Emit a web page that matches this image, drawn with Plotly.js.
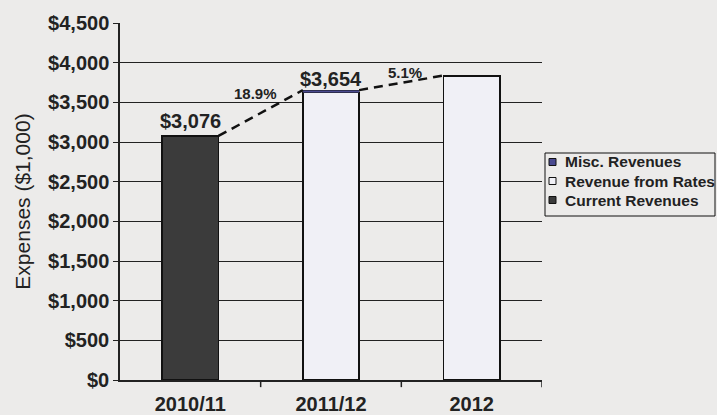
<!DOCTYPE html>
<html><head><meta charset="utf-8">
<script src="https://cdn.plot.ly/plotly-3.0.1.min.js"></script>
<style>html,body{margin:0;padding:0;background:#ecebea;}</style>
</head><body>
<div id="chart" style="width:717px;height:415px;"></div>
<script>
const categories = ['2010/11', '2011/12', '2012'];
const currentRevenues = [3076, 0, 0];
const revenueFromRates = [0, 3624, 3830];
const miscRevenues = [0, 30, 8];
const totals = [3076, 3654, 3838];
const totalLabels = ['$3,076', '$3,654', '$3,838'];
const changeLabels = ['18.9%', '5.1%'];
const seriesNames = ['Current Revenues', 'Revenue from Rates', 'Misc. Revenues'];
const yTickVals = [0, 500, 1000, 1500, 2000, 2500, 3000, 3500, 4000, 4500];
const yTickText = ['$0', '$500', '$1,000', '$1,500', '$2,000', '$2,500', '$3,000', '$3,500', '$4,000', '$4,500'];

const FONT = 'Liberation Sans, Arial, sans-serif';
const TXT = '#222';
const colors = ['#3b3b3b', '#f0f0f6', '#4a4a90'];
const halfW = 0.2;

// plot area in pixels (for placing the hand-drawn legend)
const W = 717, H = 415, ML = 120, MR = 175, MT = 23, MB = 35;
const PW = W - ML - MR, PH = H - MT - MB;
const px = x => (x - ML) / PW;
const py = y => (H - MB - y) / PH;

const seriesValues = [currentRevenues, revenueFromRates, miscRevenues];
const traces = seriesValues.map((vals, k) => ({
  type: 'bar', name: seriesNames[k], x: categories, y: vals,
  marker: {color: colors[k], line: {color: '#111', width: k === 2 ? 0.5 : 1.5}},
  showlegend: false
}));

// dashed connector lines from top-right of one bar to top-left of next
const lx = [], ly = [];
for (let i = 0; i < totals.length - 1; i++) {
  lx.push(i + halfW, i + 1 - halfW, null);
  ly.push(totals[i], totals[i + 1], null);
}
traces.push({type: 'scatter', mode: 'lines', x: lx, y: ly, xaxis: 'x2', yaxis: 'y',
  line: {color: '#111', width: 2.5, dash: '9px,6px'}, showlegend: false, hoverinfo: 'skip'});

const valueShift = [15, 11, 20];
const annotations = [];
totals.forEach((t, i) => {
  annotations.push({x: categories[i], y: t, xref: 'x', yref: 'y', text: totalLabels[i],
    showarrow: false, yanchor: 'middle', yshift: valueShift[i],
    font: {family: FONT, size: 20, color: TXT, weight: 'bold'}});
});
const pctShift = [[-5, 20], [4, 10]];
changeLabels.forEach((c, i) => {
  annotations.push({x: i + 0.5, y: (totals[i] + totals[i + 1]) / 2, xref: 'x2', yref: 'y',
    text: c, showarrow: false, yanchor: 'middle', xshift: pctShift[i][0], yshift: pctShift[i][1],
    font: {family: FONT, size: 15, color: TXT, weight: 'bold'}});
});

// legend (drawn): box, swatches and labels, top entry = Misc. Revenues
const shapes = [];
shapes.push({type: 'rect', xref: 'paper', yref: 'paper', x0: px(545), x1: px(715), y0: py(153), y1: py(216),
  line: {color: '#111', width: 1}, fillcolor: 'rgba(0,0,0,0)'});
const rowY = [162, 181, 200];
[2, 1, 0].forEach((k, r) => {
  const yc = rowY[r];
  shapes.push({type: 'rect', xref: 'paper', yref: 'paper', x0: px(549), x1: px(556), y0: py(yc - 3.5), y1: py(yc + 3.5),
    line: {color: '#111', width: 1}, fillcolor: colors[k]});
  annotations.push({xref: 'paper', yref: 'paper', x: px(563), y: py(yc), xanchor: 'left', yanchor: 'middle',
    text: seriesNames[k], showarrow: false, font: {family: FONT, size: 15.5, color: TXT, weight: 'bold'}});
});
// category boundary tick marks below the x axis
[1, 2, 3].forEach(k => shapes.push({type: 'line', xref: 'x2', yref: 'paper', x0: k - 0.5, x1: k - 0.5,
  y0: 0, y1: -0.02, line: {color: '#222', width: 1.5}}));

const layout = {
  width: W, height: H,
  margin: {l: ML, r: MR, t: MT, b: MB},
  paper_bgcolor: '#ecebea', plot_bgcolor: '#ecebea',
  barmode: 'stack', bargap: 0.6,
  showlegend: false,
  xaxis: {type: 'category', showgrid: false, showline: true, linecolor: '#222', linewidth: 1.5,
    ticks: '', ticklabelstandoff: 5, tickfont: {family: FONT, size: 20, color: TXT, weight: 'bold'}, range: [-0.5, 2.5]},
  xaxis2: {overlaying: 'x', range: [-0.5, 2.5], visible: false},
  yaxis: {range: [0, 4500], tickvals: yTickVals, ticktext: yTickText,
    showgrid: true, gridcolor: '#222', gridwidth: 1,
    showline: true, linecolor: '#222', linewidth: 1.5, ticks: 'outside', ticklen: 5, tickcolor: '#222',
    tickfont: {family: FONT, size: 20, color: TXT, weight: 'bold'},
    title: {text: 'Expenses ($1,000)', font: {family: FONT, size: 21, color: TXT}, standoff: 12}},
  annotations: annotations,
  shapes: shapes
};

Plotly.newPlot('chart', traces, layout, {displayModeBar: false});
</script>
</body></html>
